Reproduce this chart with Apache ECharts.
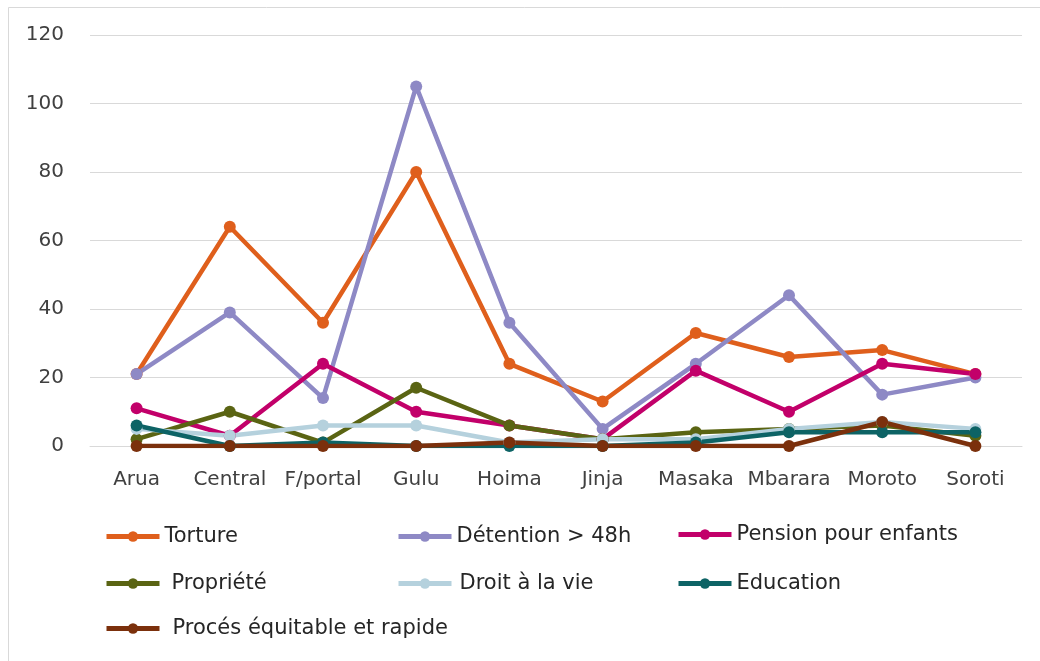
<!DOCTYPE html>
<html>
<head>
<meta charset="utf-8">
<script src="https://cdn.jsdelivr.net/npm/echarts@6/dist/echarts.min.js"></script>
<style>
  html, body { margin: 0; padding: 0; background: #fff; }
  #chart { width: 1040px; height: 661px; }
</style>
</head>
<body>
<div id="chart"></div>
<script>
// Régions
const regions = ['Arua', 'Central', 'F/portal', 'Gulu', 'Hoima', 'Jinja', 'Masaka', 'Mbarara', 'Moroto', 'Soroti'];

// Nombre de cas par type de violation
const torture   = [21, 64, 36, 80, 24, 13, 33, 26, 28, 21];
const detention = [21, 39, 14, 105, 36, 5, 24, 44, 15, 20];
const pension   = [11, 3, 24, 10, 6, 2, 22, 10, 24, 21];
const propriete = [2, 10, 1, 17, 6, 2, 4, 5, 6, 3];
const droitVie  = [5, 3, 6, 6, 1, 2, 2, 5, 7, 5];
const education = [6, 0, 1, 0, 0, 0, 1, 4, 4, 4];
const proces    = [0, 0, 0, 0, 1, 0, 0, 0, 7, 0];

const yTicks = { min: 0, max: 120, interval: 20 };

const seriesDefs = [
  { name: 'Torture',                    data: torture,   color: '#DF5F1C' },
  { name: 'Détention > 48h',            data: detention, color: '#8E89C5' },
  { name: 'Pension pour enfants',       data: pension,   color: '#C2006A' },
  { name: 'Propriété',                  data: propriete, color: '#5A6413' },
  { name: 'Droit à la vie',             data: droitVie,  color: '#B5D1DD' },
  { name: 'Education',                  data: education, color: '#0D6365' },
  { name: 'Procés équitable et rapide', data: proces,    color: '#7B300C' }
];

// Legend layout: three columns, three rows
const legendPos = [
  { left: 104, top: 526, pad: 0 },
  { left: 396, top: 526, pad: 0 },
  { left: 676, top: 524, pad: 0 },
  { left: 104, top: 573, pad: 7 },
  { left: 396, top: 573, pad: 3 },
  { left: 676, top: 573, pad: 0 },
  { left: 104, top: 618, pad: 8 }
];

const FONT = '"DejaVu Sans", "Noto Sans", sans-serif';

const chart = echarts.init(document.getElementById('chart'), null, { renderer: 'canvas' });

chart.setOption({
  animation: false,
  backgroundColor: '#ffffff',
  textStyle: { fontFamily: FONT },
  graphic: [{
    type: 'rect',
    shape: { x: 8.5, y: 7.5, width: 1100, height: 700 },
    style: { fill: 'none', stroke: '#d9d9d9', lineWidth: 1 },
    silent: true
  }],
  grid: { left: 90, right: 18, top: 35, bottom: 215 },
  xAxis: {
    type: 'category',
    data: regions,
    boundaryGap: true,
    axisLine: { show: true, lineStyle: { color: '#d9d9d9', width: 1 } },
    axisTick: { show: false },
    axisLabel: {
      color: '#404040', fontSize: 20, margin: 24, fontFamily: FONT,
      interval: 0, hideOverlap: false
    }
  },
  yAxis: {
    type: 'value',
    min: yTicks.min,
    max: yTicks.max,
    interval: yTicks.interval,
    axisLine: { show: false },
    axisTick: { show: false },
    axisLabel: { color: '#404040', fontSize: 20, margin: 26, fontFamily: FONT },
    splitLine: { lineStyle: { color: '#d9d9d9', width: 1 } }
  },
  legend: seriesDefs.map((s, i) => ({
    data: [s.name],
    left: legendPos[i].left,
    top: legendPos[i].top,
    itemWidth: 53,
    itemHeight: 13,
    itemGap: 0,
    padding: 0,
    lineStyle: { width: 5 },
    textStyle: {
      fontSize: 21,
      color: '#262626',
      fontFamily: FONT,
      padding: [0, 0, 0, legendPos[i].pad]
    }
  })),
  series: seriesDefs.map(s => ({
    name: s.name,
    type: 'line',
    data: s.data,
    symbol: 'circle',
    symbolSize: 12,
    lineStyle: { width: 4.5, color: s.color },
    itemStyle: { color: s.color },
    emphasis: { disabled: true }
  }))
});
</script>
</body>
</html>
